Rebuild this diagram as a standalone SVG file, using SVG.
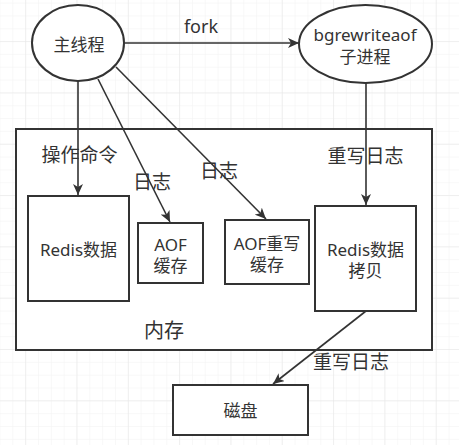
<svg xmlns="http://www.w3.org/2000/svg" width="459" height="445" viewBox="0 0 459 445">
<style>
.node{fill:#ffffff;stroke:#333333;stroke-width:2}
.edge{fill:none;stroke:#333333;stroke-width:1.6}
.t{font-family:"Noto Sans","Noto Sans CJK SC",sans-serif;font-size:17px;fill:#333333;text-anchor:middle;dominant-baseline:central}
.l{font-family:"Noto Sans","Noto Sans CJK SC",sans-serif;font-size:19px;fill:#333333;text-anchor:middle;dominant-baseline:central}
</style>
<defs>
<pattern id="gMinor" patternUnits="userSpaceOnUse" x="-0.5" y="2.6" width="12.83" height="12.83">
<path d="M0 0H12.83M0 0V12.83" fill="none" stroke="#f2f2f2" stroke-width="1"/>
</pattern>
<pattern id="gMajor" patternUnits="userSpaceOnUse" x="25.16" y="41.1" width="51.32" height="51.32">
<path d="M0 0H51.32M0 0V51.32" fill="none" stroke="#e6e6e6" stroke-width="1"/>
</pattern>
<marker id="arr" markerUnits="userSpaceOnUse" markerWidth="12" markerHeight="10" refX="11" refY="5" orient="auto">
<path d="M0 0L11 5L0 10L3 5Z" fill="#333333"/>
</marker>
</defs>
<rect width="459" height="445" fill="#ffffff"/>
<rect width="459" height="445" fill="url(#gMinor)"/>
<rect width="459" height="445" fill="url(#gMajor)"/>

<g id="memory">
<rect class="node" x="16" y="129" width="416" height="221"/>
<text class="l" x="164" y="330" style="font-size:20px">内存</text>
</g>

<g id="connectors">
<path class="edge" d="M124 43H299" marker-end="url(#arr)"/>
<path class="edge" d="M78 81V195" marker-end="url(#arr)"/>
<path class="edge" d="M98 79L170 222" marker-end="url(#arr)"/>
<path class="edge" d="M116 67L266 219" marker-end="url(#arr)"/>
<path class="edge" d="M366 83V205" marker-end="url(#arr)"/>
<path class="edge" d="M366 311L273 384" marker-end="url(#arr)"/>
<text class="l" x="201" y="26" style="font-size:18px">fork</text>
<text class="l" x="79.5" y="155">操作命令</text>
<text class="l" x="152" y="182">日志</text>
<text class="l" x="219" y="171">日志</text>
<text class="l" x="365.5" y="156">重写日志</text>
<text class="l" x="351" y="362">重写日志</text>
</g>

<g id="main-thread">
<ellipse class="node" cx="78" cy="43" rx="46" ry="38"/>
<text class="t" x="79" y="44">主线程</text>
</g>

<g id="bgrewriteaof">
<ellipse class="node" cx="365.5" cy="44" rx="66.5" ry="39"/>
<text class="t"><tspan x="365" y="34">bgrewriteaof</tspan><tspan x="365" y="56">子进程</tspan></text>
</g>

<g id="redis-data">
<rect class="node" x="28" y="196" width="101" height="105"/>
<text class="t" x="78.5" y="249">Redis数据</text>
</g>

<g id="aof-buffer">
<rect class="node" x="138" y="223" width="65" height="60"/>
<text class="t"><tspan x="170.5" y="243.5">AOF</tspan><tspan x="170.5" y="264.5">缓存</tspan></text>
</g>

<g id="aof-rewrite-buffer">
<rect class="node" x="225" y="220" width="84" height="64"/>
<text class="t"><tspan x="267" y="242.5">AOF重写</tspan><tspan x="267" y="263.5">缓存</tspan></text>
</g>

<g id="redis-copy">
<rect class="node" x="315" y="206" width="101" height="105"/>
<text class="t"><tspan x="365.5" y="249">Redis数据</tspan><tspan x="365.5" y="270">拷贝</tspan></text>
</g>

<g id="disk">
<rect class="node" x="173" y="385" width="135" height="50"/>
<text class="t" x="240.5" y="410">磁盘</text>
</g>
</svg>
